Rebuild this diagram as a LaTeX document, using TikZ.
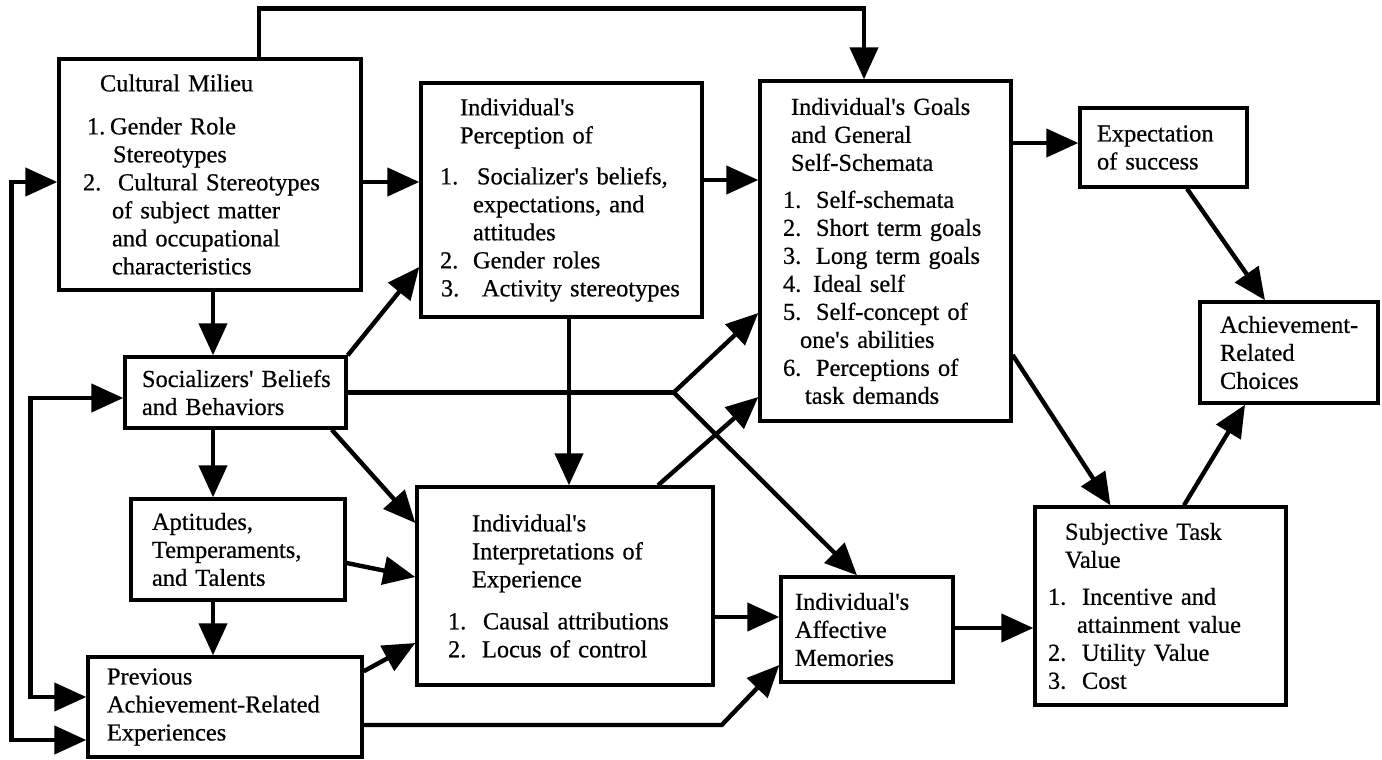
\documentclass[tikz,border=0pt]{standalone}
\usepackage{fontspec}
\setmainfont{Liberation Serif}[FakeBold=0.6]
\usepackage{tikz}
\usetikzlibrary{calc,arrows.meta}
\newcommand{\apos}{\textquotesingle}

\begin{document}
\begin{tikzpicture}[x=0.5pt,y=-0.5pt,
  box/.style={draw, line width=1.7pt, align=left, inner sep=0pt,
    font=\fontsize{12.2}{14}\selectfont},
  arr/.style={line width=2.2pt, -{Triangle[length=16pt,width=14pt]}},
  twoway/.style={line width=2.2pt,
    {Triangle[length=16pt,width=14pt]}-{Triangle[length=16pt,width=14pt]}}]
\useasboundingbox (0,0) rectangle (1382,760);

% left column
\node[box, text width=151pt, minimum height=115.5pt] (cm) at (210,174.5) {%
\hspace*{20.5pt}Cultural Milieu\\[7.5pt]
\hspace*{14pt}\makebox[11.5pt][l]{1.}Gender Role\\
\hspace*{27pt}Stereotypes\\
\hspace*{12pt}\makebox[17.5pt][l]{2.}Cultural Stereotypes\\
\hspace*{26.5pt}of subject matter\\
\hspace*{26.5pt}and occupational\\
\hspace*{26.5pt}characteristics};

\node[box, text width=110.5pt, minimum height=35.5pt] (soc) at (235.5,392.5) {%
\hspace*{8.5pt}Socializers\apos{} Beliefs\\
\hspace*{8.5pt}and Behaviors};

\node[box, text width=107pt, minimum height=50.5pt] (apt) at (238,549.5) {%
\hspace*{10.5pt}Aptitudes,\\
\hspace*{10.5pt}Temperaments,\\
\hspace*{10.5pt}and Talents};

\node[box, text width=137pt, minimum height=50pt] (prev) at (225,707) {%
\hspace*{9.5pt}Previous\\
\hspace*{9.5pt}Achievement-Related\\
\hspace*{9.5pt}Experiences};

% middle column
\node[box, text width=140.5pt, minimum height=117pt] (per) at (561.5,200) {%
\hspace*{19.5pt}Individual\apos s\\
\hspace*{19.5pt}Perception of\\[6.5pt]
\hspace*{9.5pt}\makebox[18.5pt][l]{1.}Socializer\apos s beliefs,\\
\hspace*{26pt}expectations, and\\
\hspace*{26pt}attitudes\\
\hspace*{9.5pt}\makebox[16.5pt][l]{2.}Gender roles\\
\hspace*{10pt}\makebox[20.5pt][l]{3.}Activity stereotypes};

\node[box, text width=148pt, minimum height=99pt] (int) at (565,586) {%
\hspace*{27.5pt}Individual\apos s\\
\hspace*{27.5pt}Interpretations of\\
\hspace*{27.5pt}Experience\\[7pt]
\hspace*{15.5pt}\makebox[17.5pt][l]{1.}Causal attributions\\
\hspace*{15.5pt}\makebox[17pt][l]{2.}Locus of control};

\node[box, text width=125.5pt, minimum height=170pt] (goal) at (885.5,251) {%
\hspace*{15.5pt}Individual\apos s Goals\\
\hspace*{15.5pt}and General\\
\hspace*{15.5pt}Self-Schemata\\[4.5pt]
\hspace*{11.5pt}\makebox[16.5pt][l]{1.}Self-schemata\\
\hspace*{11.5pt}\makebox[16.5pt][l]{2.}Short term goals\\
\hspace*{11.5pt}\makebox[16.5pt][l]{3.}Long term goals\\
\hspace*{11.5pt}\makebox[15pt][l]{4.}Ideal self\\
\hspace*{11.5pt}\makebox[16.5pt][l]{5.}Self-concept of\\
\hspace*{20pt}one\apos s abilities\\
\hspace*{11.5pt}\makebox[16.5pt][l]{6.}Perceptions of\\
\hspace*{22.5pt}task demands};

\node[box, text width=86pt, minimum height=52.5pt] (aff) at (867,629.5) {%
\hspace*{7pt}Individual\apos s\\
\hspace*{7pt}Affective\\
\hspace*{7pt}Memories};

% right column
\node[box, text width=83.5pt, minimum height=39.5pt] (exp) at (1163.5,147.5) {%
\hspace*{8.5pt}Expectation\\
\hspace*{8.5pt}of success};

\node[box, text width=89pt, minimum height=50.5pt] (ach) at (1289,352.5) {%
\hspace*{10pt}Achievement-\\
\hspace*{10pt}Related\\
\hspace*{10pt}Choices};

\node[box, text width=125.5pt, minimum height=99pt] (stv) at (1160.5,606) {%
\hspace*{15pt}Subjective Task\\
\hspace*{15pt}Value\\[4.5pt]
\hspace*{6.5pt}\makebox[17pt][l]{1.}Incentive and\\
\hspace*{21pt}attainment value\\
\hspace*{6.5pt}\makebox[17pt][l]{2.}Utility Value\\
\hspace*{6.5pt}\makebox[17pt][l]{3.}Cost};

% connectors
\draw[arr] ($(cm.north)+(49,0)$) -- ++(0,-49) -| ($(goal.north)+(-21.5,0)$);
\draw[twoway] ($(cm.west)+(0,7.5)$) -- ++(-46,0) |- ($(prev.west)+(0,33)$);
\draw[twoway] ($(soc.west)+(0,5.5)$) -- ++(-93,0) |- ($(prev.west)+(0,-10)$);

\draw[arr] ($(cm.east)+(0,7.5)$) -- ($(per.west)+(0,-18)$);
\draw[arr] ($(cm.south)+(3,0)$) -- ($(soc.north)+(-22.5,0)$);
\draw[arr] ($(soc.south)+(-22.5,0)$) -- ($(apt.north)+(-25,0)$);
\draw[arr] ($(apt.south)+(-25,0)$) -- ($(prev.north)+(-12,0)$);

\draw[arr] (soc.north east) -- ($(per.west)+(0,67)$);
\draw[line width=2.2pt] (soc.east) -- ++(326,0) coordinate (fork);
\draw[arr] (fork) -- ($(goal.west)+(0,62)$);
\draw[arr] (fork) -- ($(aff.north)+(-10,0)$);
\draw[arr] ($(soc.south east)+(-16,0)$) -- ($(int.west)+(0,-63)$);
\draw[arr] ($(apt.east)+(0,13.5)$) -- ($(int.west)+(0,-9)$);
\draw[arr] ($(prev.north east)+(0,16)$) -- ($(int.west)+(0,57)$);
\draw[arr] ($(prev.east)+(0,18)$) -- ++(358,0) -- ($(aff.west)+(0,35.5)$);

\draw[arr] ($(per.east)+(0,-20)$) -- ($(goal.west)+(0,-71)$);
\draw[arr] ($(per.south)+(7.5,0)$) -- ($(int.north)+(4,0)$);
\draw[arr] ($(int.north)+(93,0)$) -- ($(goal.west)+(0,146)$);
\draw[arr] ($(int.east)+(0,31)$) -- ($(aff.west)+(0,-12.5)$);
\draw[arr] ($(aff.east)+(0,-1.5)$) -- ($(stv.west)+(0,22)$);

\draw[arr] ($(goal.east)+(0,-108)$) -- ($(exp.west)+(0,-4.5)$);
\draw[arr] ($(goal.east)+(0,104)$) -- ($(stv.north)+(-50,0)$);
\draw[arr] ($(exp.south)+(23.5,0)$) -- ($(ach.north)+(-24,0)$);
\draw[arr] ($(stv.north)+(23.5,0)$) -- ($(ach.south)+(-44,0)$);

\end{tikzpicture}
\end{document}
